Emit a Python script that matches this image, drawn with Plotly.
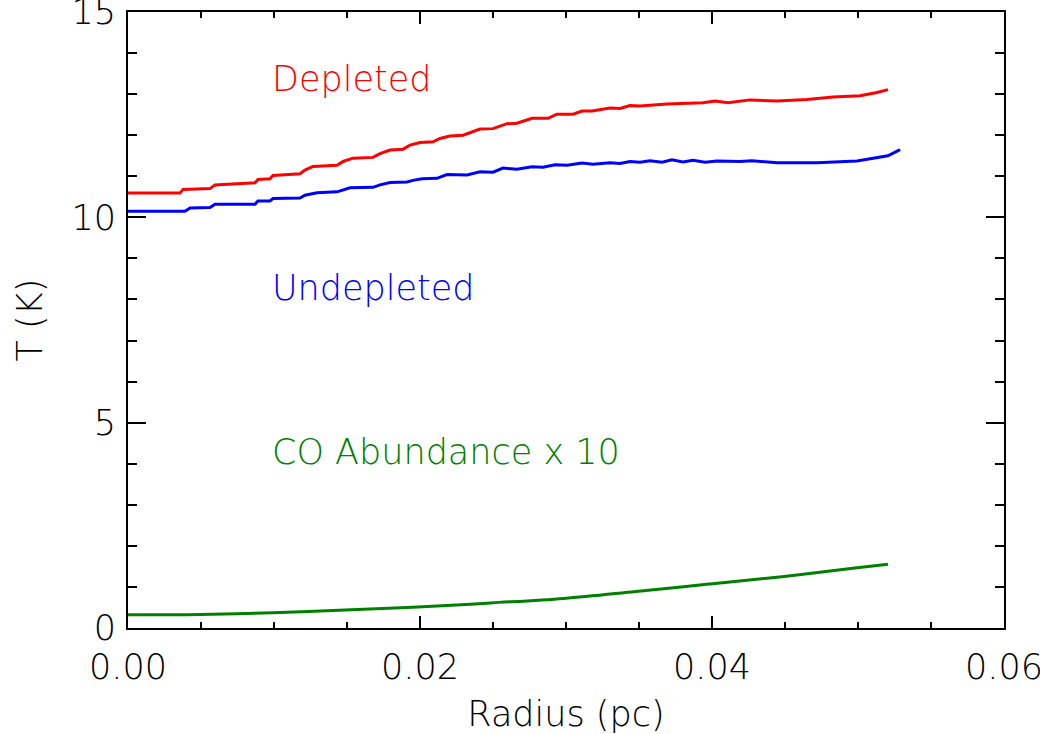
import plotly.graph_objects as go

# ---- Data ----
depleted_r = [0.0, 0.00356, 0.00377, 0.00562, 0.00596, 0.00870, 0.00890, 0.00973, 0.00993,
              0.01178, 0.01212, 0.01267, 0.01432, 0.01473, 0.01541, 0.01678, 0.01726, 0.01795,
              0.01884, 0.01932, 0.02000, 0.02089, 0.02137, 0.02205, 0.02295, 0.02411, 0.02500,
              0.02596, 0.02664, 0.02767, 0.02877, 0.02938, 0.03048, 0.03110, 0.03178, 0.03301,
              0.03370, 0.03438, 0.03507, 0.03692, 0.03938, 0.04021, 0.04110, 0.04260, 0.04445,
              0.04651, 0.04829, 0.05014, 0.05130, 0.05205]
depleted_T = [10.59, 10.59, 10.68, 10.70, 10.79, 10.84, 10.92, 10.94, 11.02,
              11.06, 11.15, 11.24, 11.27, 11.36, 11.44, 11.46, 11.55, 11.64,
              11.66, 11.76, 11.82, 11.84, 11.92, 11.98, 12.00, 12.15, 12.16,
              12.28, 12.29, 12.41, 12.41, 12.51, 12.51, 12.59, 12.59, 12.66,
              12.65, 12.72, 12.71, 12.76, 12.79, 12.83, 12.79, 12.86, 12.83,
              12.87, 12.93, 12.96, 13.04, 13.11]

undepleted_r = [0.0, 0.00390, 0.00425, 0.00562, 0.00596, 0.00870, 0.00890, 0.00973, 0.00993,
                0.01178, 0.01212, 0.01295, 0.01432, 0.01521, 0.01678, 0.01726, 0.01795, 0.01911,
                0.01952, 0.02014, 0.02116, 0.02185, 0.02322, 0.02411, 0.02500, 0.02568, 0.02664,
                0.02767, 0.02842, 0.02925, 0.03007, 0.03110, 0.03185, 0.03301, 0.03370, 0.03438,
                0.03507, 0.03575, 0.03658, 0.03726, 0.03801, 0.03870, 0.03952, 0.04034, 0.04192,
                0.04274, 0.04445, 0.04719, 0.04993, 0.05103, 0.05205, 0.05288]
undepleted_T = [10.15, 10.15, 10.23, 10.24, 10.32, 10.32, 10.40, 10.40, 10.46,
                10.47, 10.54, 10.60, 10.62, 10.72, 10.73, 10.79, 10.85, 10.86,
                10.90, 10.94, 10.95, 11.04, 11.03, 11.11, 11.10, 11.20, 11.17,
                11.23, 11.22, 11.28, 11.27, 11.32, 11.29, 11.33, 11.31, 11.36,
                11.34, 11.38, 11.34, 11.40, 11.35, 11.39, 11.34, 11.37, 11.36,
                11.38, 11.33, 11.33, 11.37, 11.44, 11.50, 11.65]

co_r = [0.0, 0.00493, 0.00993, 0.01486, 0.01986, 0.02486, 0.02986, 0.03479, 0.03979,
        0.04479, 0.04979, 0.05205]
co_abund_x10 = [0.32, 0.33, 0.37, 0.44, 0.51, 0.61, 0.72, 0.89, 1.07, 1.25, 1.46, 1.55]

x_tickvals = [0.0, 0.02, 0.04, 0.06]
y_tickvals = [0, 5, 10, 15]

labels = ["Depleted", "Undepleted", "CO Abundance x 10"]
label_y = [13.37, 8.29, 4.29]
label_colors = ["#ff0000", "#0000ff", "#007f00"]

FONT = "DejaVu Sans"
FW = 200
FS = 35

fig = go.Figure()
fig.add_trace(go.Scatter(x=depleted_r, y=depleted_T, mode="lines",
                         line=dict(color="#ff0000", width=3), name="Depleted"))
fig.add_trace(go.Scatter(x=undepleted_r, y=undepleted_T, mode="lines",
                         line=dict(color="#0000ff", width=3), name="Undepleted"))
fig.add_trace(go.Scatter(x=co_r, y=co_abund_x10, mode="lines",
                         line=dict(color="#007f00", width=3, shape="spline"),
                         name="CO Abundance x 10"))

for txt, yy, col in zip(labels, label_y, label_colors):
    fig.add_annotation(x=0.0097, y=yy, text=txt, showarrow=False,
                       xanchor="left", yanchor="middle",
                       font=dict(family=FONT, size=FS, color=col, weight=FW))

fig.update_layout(
    width=1040, height=734,
    margin=dict(l=128, r=36, t=12, b=106),
    paper_bgcolor="white", plot_bgcolor="white",
    showlegend=False,
    font=dict(family=FONT, size=FS, color="black", weight=FW),
)

fig.update_xaxes(
    range=[0, 0.06], tickvals=x_tickvals, tickformat=".2f",
    showgrid=False, zeroline=False, automargin=False,
    showline=True, linecolor="black", linewidth=2, mirror="ticks",
    ticks="inside", ticklen=12, tickwidth=2, tickcolor="black",
    minor=dict(dtick=0.005, ticks="inside", ticklen=6, tickwidth=2, tickcolor="black", showgrid=False),
    tickfont=dict(family=FONT, size=FS, weight=FW),
    ticklabelstandoff=7, ticklabeloverflow="allow",
    title=dict(text="Radius (pc)", font=dict(family=FONT, size=FS, weight=FW), standoff=37),
)
fig.update_yaxes(
    range=[0, 15], tickvals=y_tickvals,
    showgrid=False, zeroline=False, automargin=False,
    showline=True, linecolor="black", linewidth=2, mirror="ticks",
    ticks="inside", ticklen=18, tickwidth=2, tickcolor="black",
    minor=dict(dtick=1, ticks="inside", ticklen=9, tickwidth=2, tickcolor="black", showgrid=False),
    tickfont=dict(family=FONT, size=FS, weight=FW),
    ticklabelstandoff=3, ticklabeloverflow="allow",
    title=dict(text="T (K)", font=dict(family=FONT, size=FS, weight=FW, color="black"), standoff=18),
)

# remove the default 8px page margin so the figure fills the window exactly
fig.write_html("out.html", config={"displayModeBar": False},
               post_script="document.body.style.margin='0';")
